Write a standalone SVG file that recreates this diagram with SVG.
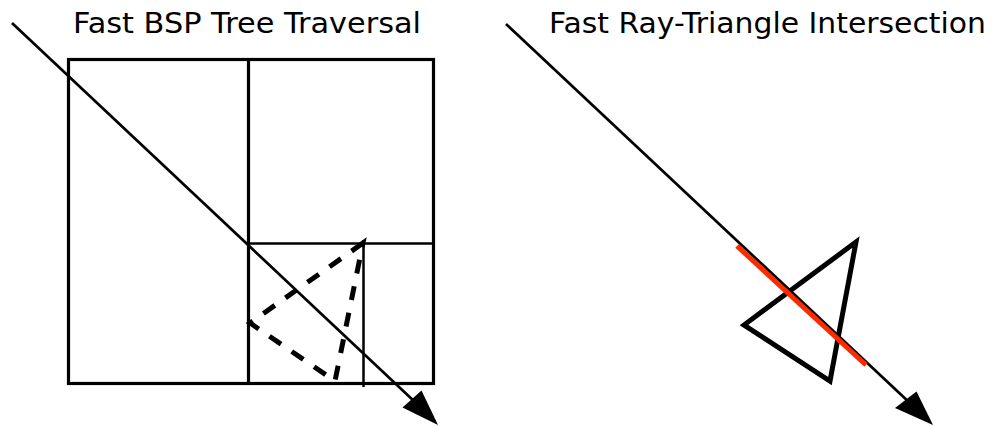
<svg xmlns="http://www.w3.org/2000/svg" width="996" height="426" viewBox="0 0 996 426">
<style>
.title{font-family:"DejaVu Sans","Liberation Sans",sans-serif;font-size:27.5px;fill:#000}
.frame{fill:none;stroke:#000;stroke-width:3.2;stroke-linecap:square}
.thin{fill:none;stroke:#000;stroke-width:2.5}
.ray{fill:none;stroke:#000;stroke-width:2.7}
.dash{fill:none;stroke:#000;stroke-width:5;stroke-dasharray:14,13}
.tri{fill:none;stroke:#000;stroke-width:5;stroke-linejoin:miter}
.hit{fill:none;stroke:#ff2a00;stroke-width:5}
</style>
<rect width="996" height="426" fill="#fff"/>
<g id="title-bsp"><text class="title" x="73" y="33" textLength="348" lengthAdjust="spacingAndGlyphs">Fast BSP Tree Traversal</text></g>
<g id="title-tri"><text class="title" x="549" y="33" textLength="437" lengthAdjust="spacingAndGlyphs">Fast Ray-Triangle Intersection</text></g>
<g id="bsp-cells">
<rect class="frame" x="68.5" y="59.5" width="365" height="324"/>
<line class="frame" x1="248.5" y1="59.5" x2="248.5" y2="383.5"/>
<line class="thin" x1="248.5" y1="243.5" x2="433.5" y2="243.5"/>
<line class="thin" x1="363.5" y1="240" x2="363.5" y2="387"/>
</g>
<g id="bsp-triangle">
<polygon class="dash" points="363,243 250,323 335,381"/>
</g>
<g id="tri-shape">
<polygon class="tri" points="856,242 744,325 830,381"/>
</g>
<g id="connectors">
<line class="ray" x1="12" y1="23" x2="415" y2="402"/>
<polygon points="438,425 402.5,407.5 421.5,390.5" fill="#000"/>
<line class="ray" x1="506" y1="24" x2="911" y2="404"/>
<polygon points="933,425 895,408 916.5,391.5" fill="#000"/>
<line class="hit" x1="737" y1="246" x2="866" y2="365"/>
</g>
</svg>
